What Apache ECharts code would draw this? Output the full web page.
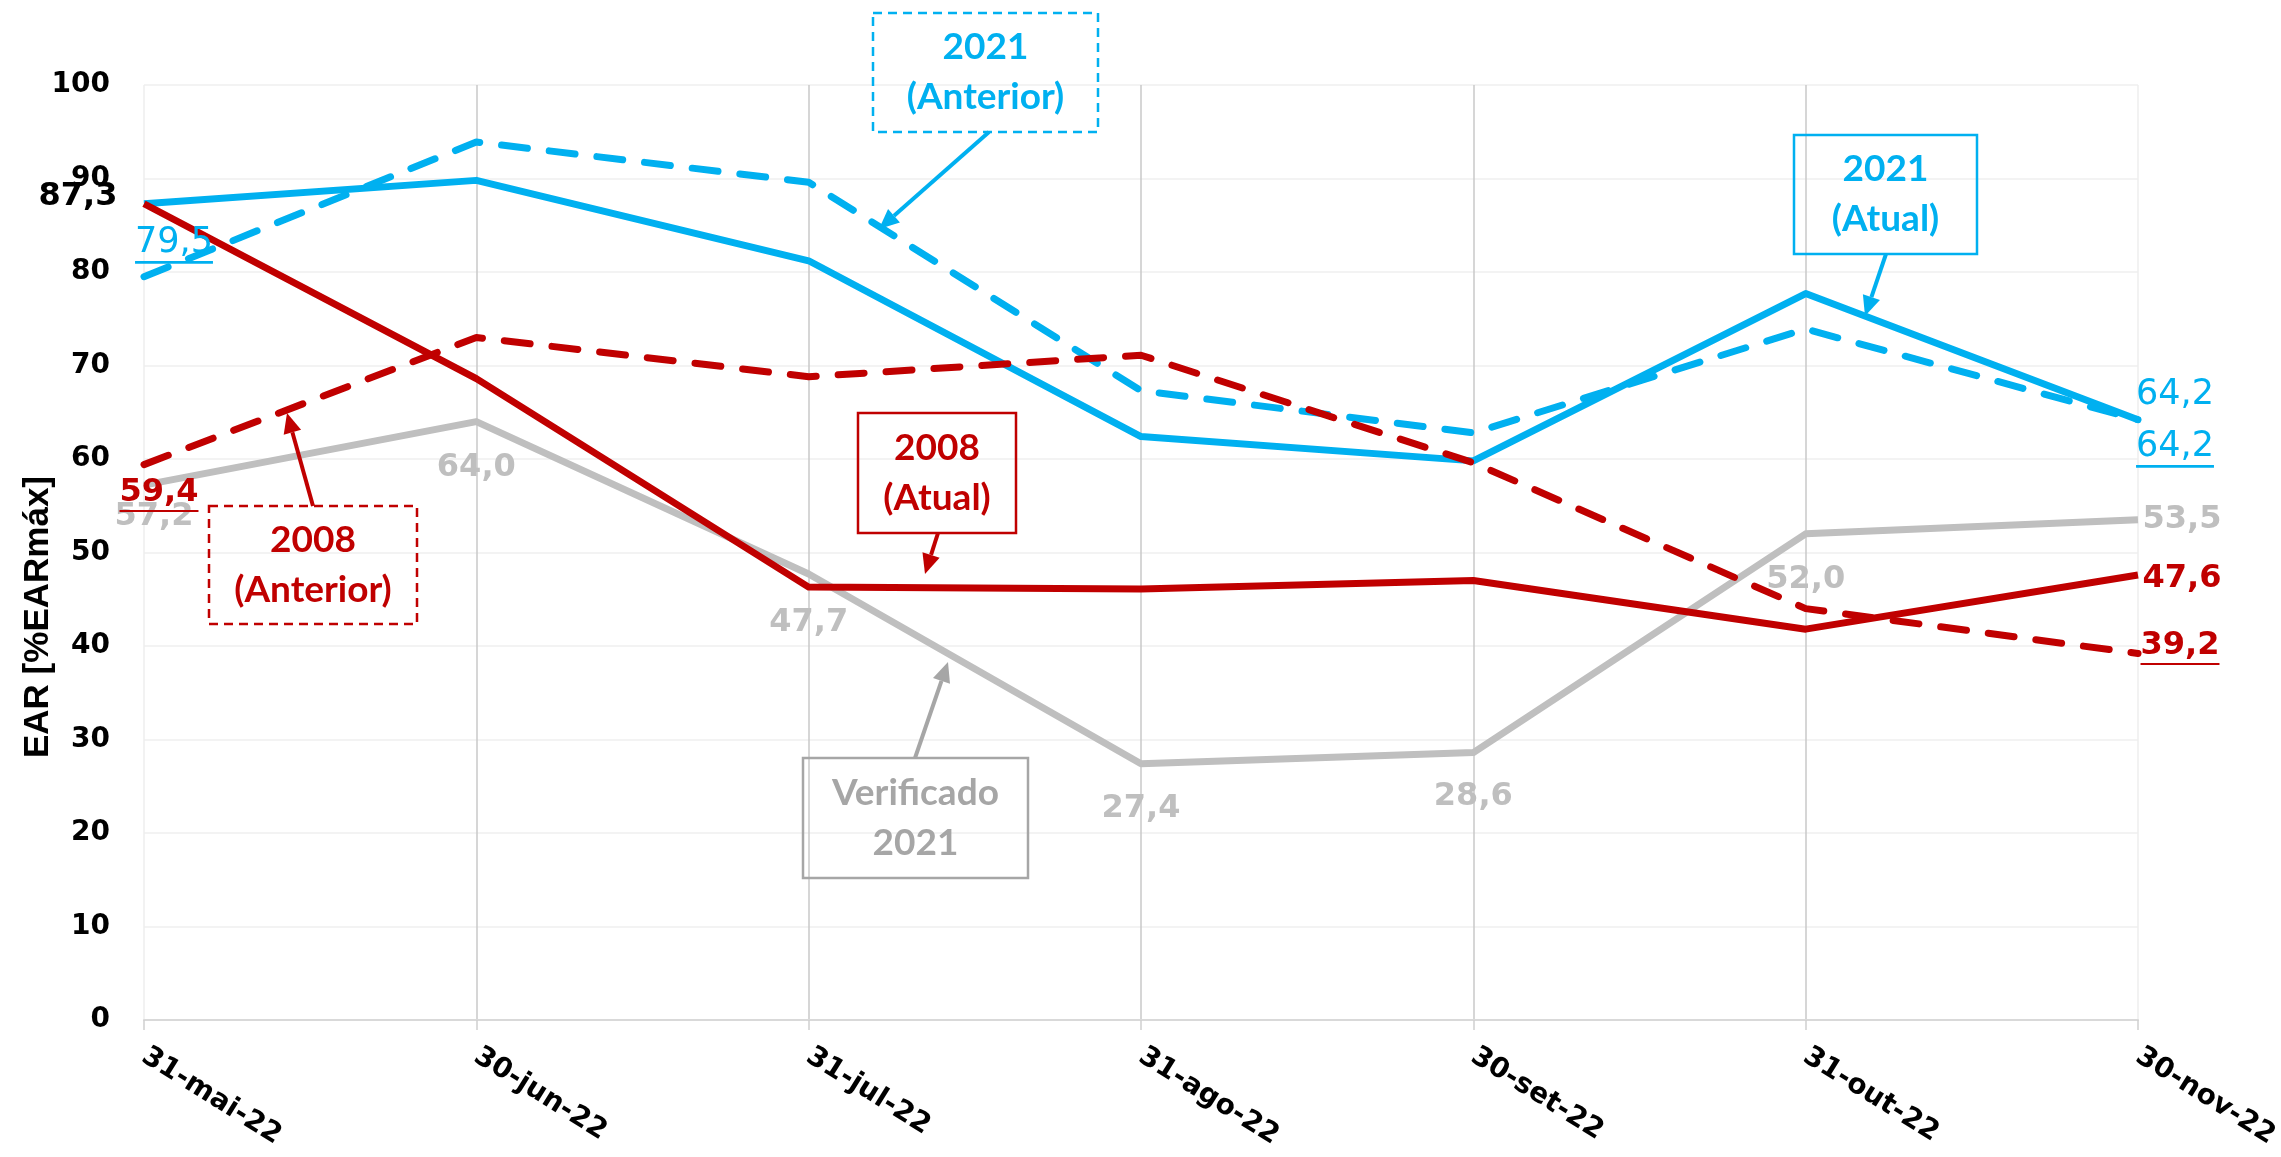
<!DOCTYPE HTML>
<html lang="pt">
<head>
<meta charset="utf-8">
<title>EAR [%EARmáx]</title>
<style>
html, body {
  margin: 0;
  background: #ffffff;
}
#chart {
  width: 2281px;
  height: 1157px;
}
</style>
</head>
<body>
<div id="chart"></div>
<script src="https://cdn.jsdelivr.net/npm/echarts@6.0.0/dist/echarts.min.js"></script>
<script>
var categories = ['31-mai-22', '30-jun-22', '31-jul-22', '31-ago-22', '30-set-22', '31-out-22', '30-nov-22'];
var atual2021 = [87.3, 89.8, 81.2, 62.4, 59.8, 77.7, 64.2];
var anterior2021 = [79.5, 93.9, 89.6, 67.3, 62.8, 73.9, 64.2];
var atual2008 = [87.3, 68.6, 46.3, 46.1, 47.0, 41.8, 47.6];
var anterior2008 = [59.4, 73.0, 68.8, 71.1, 59.6, 44.0, 39.2];
var verificado2021 = [57.2, 64.0, 47.7, 27.4, 28.6, 52.0, 53.5];
var yTicks = [0, 100, 10];

var BLUE = '#00B0F0', RED = '#C00000', GRAY = '#BFBFBF';
var LABEL_FONT = '"DejaVu Sans", Verdana, sans-serif';
var NOTE_FONT = 'Lato, "Open Sans", sans-serif';

function fmt(v) {
  return v.toFixed(1).replace('.', ',');
}

// which points carry a value label, and how it is placed
var labelPlaces = {
  atual2021: {0: {o: [-66, -7], c: '#000', w: 'bold', s: 32}, 6: {o: [37, -25], c: BLUE, w: 'normal', s: 35}},
  anterior2021: {0: {o: [30, -32], c: BLUE, w: 'normal', s: 35, u: true}, 6: {o: [37, 29], c: BLUE, w: 'normal', s: 35, u: true}},
  atual2008: {6: {o: [44, 4], c: RED, w: 'bold', s: 32}},
  anterior2008: {0: {o: [15, 30], c: RED, w: 'bold', s: 32, u: true}, 6: {o: [42, -6], c: RED, w: 'bold', s: 32, u: true}},
  verificado2021: {
    0: {o: [10, 32], c: GRAY, w: 'bold', s: 32}, 1: {o: [0, 46], c: GRAY, w: 'bold', s: 32},
    2: {o: [0, 49], c: GRAY, w: 'bold', s: 32}, 3: {o: [0, 45], c: GRAY, w: 'bold', s: 32},
    4: {o: [0, 44], c: GRAY, w: 'bold', s: 32}, 5: {o: [0, 46], c: GRAY, w: 'bold', s: 32},
    6: {o: [44, 0], c: GRAY, w: 'bold', s: 32}
  }
};

function underline(color) {
  return new echarts.graphic.LinearGradient(0, 0, 0, 1, [
    {offset: 0, color: 'rgba(255,255,255,0)'},
    {offset: 0.93, color: 'rgba(255,255,255,0)'},
    {offset: 0.93, color: color},
    {offset: 1, color: color}
  ]);
}

function buildData(values, places) {
  return values.map(function (v, i) {
    var p = places[i];
    if (!p) return v;
    var txt = {color: p.c, fontWeight: p.w, fontSize: p.s, fontFamily: LABEL_FONT, lineHeight: p.s + 4};
    var label = {
      show: true,
      position: 'inside',
      offset: p.o,
      formatter: p.u ? '{u|' + fmt(v) + '}' : fmt(v),
      color: p.c,
      fontWeight: p.w,
      fontSize: p.s,
      fontFamily: LABEL_FONT
    };
    if (p.u) {
      txt.padding = [0, 0, 3, 0];
      txt.backgroundColor = underline(p.c);
      label.rich = {u: txt};
    }
    return {value: v, label: label};
  });
}

function lineSeries(name, values, places, color, dashed) {
  return {
    name: name,
    type: 'line',
    data: buildData(values, places),
    symbol: 'circle',
    symbolSize: 0.1,
    itemStyle: {color: color},
    lineStyle: {
      color: color,
      width: 7,
      type: dashed ? [26, 22] : 'solid',
      cap: dashed ? 'round' : 'butt',
      join: 'round'
    },
    label: {show: false},
    emphasis: {disabled: true},
    animation: false
  };
}

// annotation boxes with their arrows
var notes = [
  {text: '2021\n(Anterior)', color: BLUE, dashed: true, box: [873, 13, 225, 119], arrow: [989, 132, 879, 229]},
  {text: '2021\n(Atual)', color: BLUE, dashed: false, box: [1794, 135, 183, 119], arrow: [1886, 254, 1865, 316]},
  {text: '2008\n(Atual)', color: RED, dashed: false, box: [858, 413, 158, 120], arrow: [938, 533, 925, 574]},
  {text: '2008\n(Anterior)', color: RED, dashed: true, box: [209, 506, 208, 118], arrow: [313, 506, 287, 413]},
  {text: 'Verificado\n2021', color: '#A6A6A6', dashed: false, box: [803, 758, 225, 120], arrow: [915, 758, 948, 662]}
];

function noteGraphics() {
  var out = [];
  notes.forEach(function (n) {
    var b = n.box, a = n.arrow;
    out.push({
      type: 'rect',
      shape: {x: b[0], y: b[1], width: b[2], height: b[3]},
      style: {fill: null, stroke: n.color, lineWidth: 2.5, lineDash: n.dashed ? [9, 6] : null},
      z: 10
    });
    out.push({
      type: 'text',
      style: {
        text: n.text, x: b[0] + b[2] / 2, y: b[1] + b[3] / 2,
        align: 'center', verticalAlign: 'middle',
        fill: n.color, fontSize: 37, fontWeight: 'bold', fontFamily: NOTE_FONT, lineHeight: 50
      },
      z: 10
    });
    var dx = a[2] - a[0], dy = a[3] - a[1];
    var len = Math.sqrt(dx * dx + dy * dy), ux = dx / len, uy = dy / len;
    var hl = 20, hw = 9;
    var bx = a[2] - ux * hl, by = a[3] - uy * hl;
    out.push({
      type: 'line',
      shape: {x1: a[0], y1: a[1], x2: bx, y2: by},
      style: {stroke: n.color, lineWidth: 4},
      z: 10
    });
    out.push({
      type: 'polygon',
      shape: {points: [[a[2], a[3]], [bx - uy * hw, by + ux * hw], [bx + uy * hw, by - ux * hw]]},
      style: {fill: n.color},
      z: 10
    });
  });
  out.push({
    type: 'text',
    x: 38, y: 617,
    rotation: Math.PI / 2,
    style: {
      text: 'EAR [%EARmáx]', x: 0, y: 0, align: 'center', verticalAlign: 'middle',
      fill: '#000', fontSize: 35, fontWeight: 'bold', fontFamily: '"Liberation Sans", Arial, sans-serif'
    }
  });
  return out;
}

var chart = echarts.init(document.getElementById('chart'));
chart.setOption({
  backgroundColor: '#ffffff',
  animation: false,
  grid: {left: 144, right: 143, top: 85, bottom: 137, outerBoundsMode: 'none'},
  xAxis: {
    type: 'category',
    data: categories,
    boundaryGap: false,
    axisLine: {lineStyle: {color: '#d9d9d9', width: 2}},
    axisTick: {show: true, length: 10, lineStyle: {color: '#d0d0d0', width: 1.5}},
    splitLine: {show: true, lineStyle: {color: ['#eeeeee', '#c9c9c9', '#c9c9c9', '#c9c9c9', '#c9c9c9', '#c9c9c9', '#eeeeee'], width: 1.5}},
    axisLabel: {
      rotate: -32, margin: 34, color: '#000', fontSize: 28, fontWeight: 'bold',
      fontFamily: LABEL_FONT, interval: 0
    }
  },
  yAxis: {
    type: 'value',
    min: yTicks[0],
    max: yTicks[1],
    interval: yTicks[2],
    axisLine: {show: false},
    axisTick: {show: false},
    splitLine: {lineStyle: {color: '#efefef', width: 1.5}},
    axisLabel: {margin: 34, color: '#000', fontSize: 28, fontWeight: 'bold', fontFamily: LABEL_FONT}
  },
  series: [
    lineSeries('2021 (Atual)', atual2021, labelPlaces.atual2021, BLUE, false),
    lineSeries('2021 (Anterior)', anterior2021, labelPlaces.anterior2021, BLUE, true),
    lineSeries('Verificado 2021', verificado2021, labelPlaces.verificado2021, GRAY, false),
    lineSeries('2008 (Atual)', atual2008, labelPlaces.atual2008, RED, false),
    lineSeries('2008 (Anterior)', anterior2008, labelPlaces.anterior2008, RED, true)
  ],
  graphic: noteGraphics()
});
</script>
</body>
</html>
